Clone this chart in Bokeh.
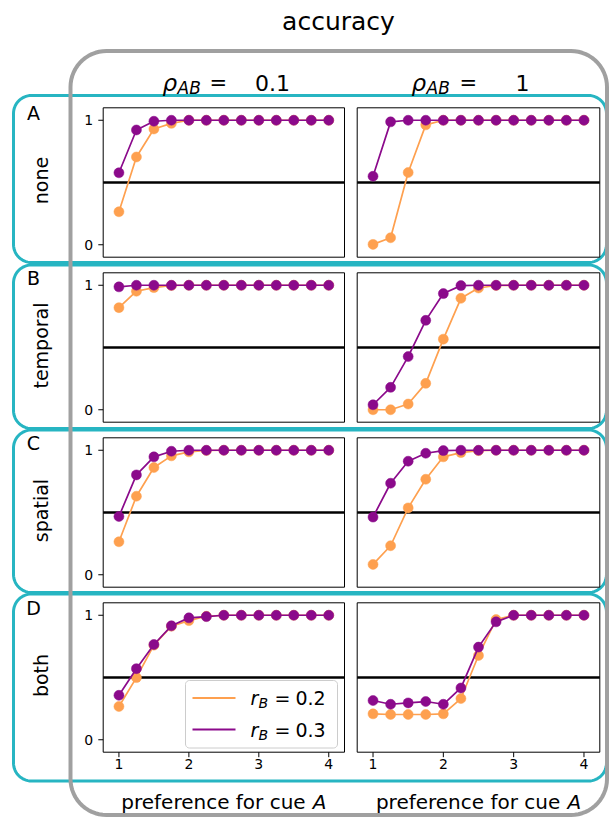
import numpy as np
from bokeh.plotting import figure
from bokeh.models import Range1d
from bokeh.core.properties import value
from bokeh.embed import file_html
from bokeh.resources import INLINE

# ---------------- data ----------------
pref = [1.0, 1.25, 1.5, 1.75, 2.0, 2.25, 2.5, 2.75, 3.0, 3.25, 3.5, 3.75, 4.0]
x_ticks = [1, 2, 3, 4]
y_ticks = [0, 1]
x_tick_labels = ["1", "2", "3", "4"]
y_tick_labels = ["0", "1"]
hline_level = 0.5

row_names = ["none", "temporal", "spatial", "both"]
row_letters = ["A", "B", "C", "D"]
rho_labels = ["0.1", "1"]
rB_labels = ["0.2", "0.3"]

none_rho01_rB02 = [0.265, 0.705, 0.93, 0.975, 1.0, 1.0, 1.0, 1.0, 1.0, 1.0, 1.0, 1.0, 1.0]
none_rho01_rB03 = [0.578, 0.922, 0.992, 1.0, 1.0, 1.0, 1.0, 1.0, 1.0, 1.0, 1.0, 1.0, 1.0]
none_rho1_rB02 = [0.003, 0.056, 0.58, 0.963, 1.0, 1.0, 1.0, 1.0, 1.0, 1.0, 1.0, 1.0, 1.0]
none_rho1_rB03 = [0.55, 0.987, 1.0, 1.0, 1.0, 1.0, 1.0, 1.0, 1.0, 1.0, 1.0, 1.0, 1.0]
temporal_rho01_rB02 = [0.82, 0.952, 0.981, 0.998, 1.0, 1.0, 1.0, 1.0, 1.0, 1.0, 1.0, 1.0, 1.0]
temporal_rho01_rB03 = [0.987, 1.0, 1.0, 1.0, 1.0, 1.0, 1.0, 1.0, 1.0, 1.0, 1.0, 1.0, 1.0]
temporal_rho1_rB02 = [0.0, 0.0, 0.046, 0.212, 0.567, 0.895, 0.978, 0.998, 1.0, 1.0, 1.0, 1.0, 1.0]
temporal_rho1_rB03 = [0.04, 0.18, 0.427, 0.718, 0.933, 0.997, 1.0, 1.0, 1.0, 1.0, 1.0, 1.0, 1.0]
spatial_rho01_rB02 = [0.265, 0.631, 0.861, 0.955, 0.987, 0.998, 1.0, 1.0, 1.0, 1.0, 1.0, 1.0, 1.0]
spatial_rho01_rB03 = [0.468, 0.802, 0.947, 0.992, 1.0, 1.0, 1.0, 1.0, 1.0, 1.0, 1.0, 1.0, 1.0]
spatial_rho1_rB02 = [0.083, 0.233, 0.537, 0.767, 0.947, 0.981, 0.997, 1.0, 1.0, 1.0, 1.0, 1.0, 1.0]
spatial_rho1_rB03 = [0.463, 0.735, 0.912, 0.976, 0.997, 1.0, 1.0, 1.0, 1.0, 1.0, 1.0, 1.0, 1.0]
both_rho01_rB02 = [0.267, 0.499, 0.76, 0.912, 0.957, 0.992, 1.0, 1.0, 1.0, 1.0, 1.0, 1.0, 1.0]
both_rho01_rB03 = [0.357, 0.571, 0.765, 0.915, 0.979, 0.989, 1.0, 1.0, 1.0, 1.0, 1.0, 1.0, 1.0]
both_rho1_rB02 = [0.208, 0.203, 0.203, 0.203, 0.208, 0.331, 0.677, 0.965, 1.0, 1.0, 1.0, 1.0, 1.0]
both_rho1_rB03 = [0.315, 0.285, 0.296, 0.307, 0.285, 0.416, 0.744, 0.947, 1.0, 1.0, 1.0, 1.0, 1.0]

series = {
    ("none", 0): (none_rho01_rB02, none_rho01_rB03),
    ("none", 1): (none_rho1_rB02, none_rho1_rB03),
    ("temporal", 0): (temporal_rho01_rB02, temporal_rho01_rB03),
    ("temporal", 1): (temporal_rho1_rB02, temporal_rho1_rB03),
    ("spatial", 0): (spatial_rho01_rB02, spatial_rho01_rB03),
    ("spatial", 1): (spatial_rho1_rB02, spatial_rho1_rB03),
    ("both", 0): (both_rho01_rB02, both_rho01_rB03),
    ("both", 1): (both_rho1_rB02, both_rho1_rB03),
}

# ---------------- style / layout ----------------
W, H = 609, 817
FONT = value("DejaVu Sans")
ORANGE = "#fea04f"
PURPLE = "#8b0a8b"
CYAN = "#27b5c2"
GRAY = "#a0a0a0"
XLIM = (0.775, 4.225)
YLIM = (-0.1, 1.1)

col_left = [102.7, 356.7]
col_right = [344.0, 599.3]
row_top = [107.3, 272.3, 437.3, 602.3]
panel_h = 149.4
row_box = [(95.0, 262.0), (264.5, 428.0), (429.5, 592.0), (593.5, 780.5)]

p = figure(width=W, height=H, x_range=Range1d(0, W), y_range=Range1d(H, 0),
           output_backend="svg", toolbar_location=None, min_border=0,
           x_axis_location=None, y_axis_location=None)
p.grid.visible = False
p.outline_line_color = None
p.background_fill_color = "white"
p.border_fill_color = "white"


def rrect(x0, y0, x1, y1, r, n=16):
    xs, ys = [], []
    corners = [((x0 + r, y0 + r), np.pi, 1.5 * np.pi),
               ((x1 - r, y0 + r), 1.5 * np.pi, 2 * np.pi),
               ((x1 - r, y1 - r), 0.0, 0.5 * np.pi),
               ((x0 + r, y1 - r), 0.5 * np.pi, np.pi)]
    for (cx, cy), a0, a1 in corners:
        t = np.linspace(a0, a1, n)
        xs.extend(cx + r * np.cos(t))
        ys.extend(cy + r * np.sin(t))
    xs.append(xs[0]); ys.append(ys[0])
    return xs, ys


# cyan row boxes
for (y0, y1) in row_box:
    xs, ys = rrect(13, y0, 606, y1, 18)
    p.line(xs, ys, line_color=CYAN, line_width=3, line_join="round")

# gray column box
xs, ys = rrect(70, 50.5, 606.5, 814.5, 36)
p.line(xs, ys, line_color=GRAY, line_width=4, line_join="round")

# titles
p.text(x=[338], y=[21], text=["accuracy"], text_font=FONT, text_font_size="25px",
       text_align="center", text_baseline="middle", text_color="black")

title_pos = [(162, 177, 209, 272), (411, 426, 459, 522)]
for (xr, xab, xeq, xv), lab in zip(title_pos, rho_labels):
    p.text(x=[xr], y=[82], text=["ρ"], text_font=FONT, text_font_size="23px",
           text_align="left", text_baseline="alphabetic", text_font_style="italic")
    p.text(x=[xab], y=[87], text=["AB"], text_font=FONT, text_font_size="17px",
           text_align="left", text_baseline="alphabetic", text_font_style="italic")
    p.text(x=[xeq], y=[82], text=["="], text_font=FONT, text_font_size="21px",
           text_align="left", text_baseline="alphabetic")
    p.text(x=[xv], y=[82], text=[lab], text_font=FONT, text_font_size="22px",
           text_align="center", text_baseline="alphabetic")

# row labels
for i, (letter, name) in enumerate(zip(row_letters, row_names)):
    yc = row_top[i] + panel_h / 2 - 2
    p.text(x=[33], y=[row_top[i] + 5], text=[letter], text_font=FONT, text_font_size="19px",
           text_align="center", text_baseline="middle")
    p.text(x=[40], y=[yc], text=[name], text_font=FONT, text_font_size="19px",
           text_align="center", text_baseline="middle", angle=np.pi / 2)

# panels
for i, name in enumerate(row_names):
    for j in range(2):
        sub = p.subplot(
            x_source=Range1d(*XLIM), y_source=Range1d(*YLIM),
            x_target=Range1d(col_left[j], col_right[j]),
            y_target=Range1d(row_top[i] + panel_h, row_top[i]),
        )
        sub.quad(left=[XLIM[0]], right=[XLIM[1]], bottom=[YLIM[0]], top=[YLIM[1]],
                 fill_color="white", line_color="black", line_width=1)
        sub.segment(x0=[XLIM[0]], x1=[XLIM[1]], y0=[hline_level], y1=[hline_level],
                    line_color="black", line_width=2.6)
        y02, y03 = series[(name, j)]
        for ys_, col in ((y02, ORANGE), (y03, PURPLE)):
            sub.line(pref, ys_, line_color=col, line_width=1.7)
            sub.scatter(pref, ys_, size=10, fill_color=col, line_color=col, line_width=0.5)
        if j == 0:
            sub.segment(x0=[XLIM[0]] * 2, x1=[XLIM[0] - 0.07] * 2, y0=y_ticks, y1=y_ticks,
                        line_color="black", line_width=1)
            sub.text(x=[XLIM[0]] * 2, y=y_ticks, text=y_tick_labels, x_offset=-10,
                     text_font=FONT, text_font_size="14px", text_align="right",
                     text_baseline="middle")
        if i == 3:
            sub.segment(x0=x_ticks, x1=x_ticks, y0=[YLIM[0]] * 4, y1=[YLIM[0] - 0.04] * 4,
                        line_color="black", line_width=1)
            sub.text(x=x_ticks, y=[YLIM[0]] * 4, text=x_tick_labels, y_offset=7,
                     text_font=FONT, text_font_size="14px", text_align="center",
                     text_baseline="top")

# x labels
for j in range(2):
    cx = (col_left[j] + col_right[j]) / 2
    p.text(x=[cx - 102.6], y=[801], text=["preference for cue "], text_font=FONT,
           text_font_size="20px", text_align="left", text_baseline="alphabetic")
    p.text(x=[cx + 89], y=[801], text=["A"], text_font=FONT, text_font_size="20px",
           text_align="left", text_baseline="alphabetic", text_font_style="italic")

# legend (row D, left panel)
lx, ly = rrect(185, 680, 337, 747.5, 4, n=6)
p.patch(lx, ly, fill_color="white", fill_alpha=0.85, line_color="#cccccc", line_width=1)
for k, (col, lab) in enumerate(zip((ORANGE, PURPLE), rB_labels)):
    yy = 697.5 + k * 31.5
    p.segment(x0=[192], x1=[235], y0=[yy], y1=[yy], line_color=col, line_width=1.8)
    p.text(x=[250], y=[yy], text=["r"], text_font=FONT, text_font_size="19px",
           text_align="left", text_baseline="middle", text_font_style="italic")
    p.text(x=[258], y=[yy + 5], text=["B"], text_font=FONT, text_font_size="14px",
           text_align="left", text_baseline="middle", text_font_style="italic")
    p.text(x=[274], y=[yy], text=["="], text_font=FONT, text_font_size="19px",
           text_align="left", text_baseline="middle")
    p.text(x=[310], y=[yy], text=[lab], text_font=FONT, text_font_size="19px",
           text_align="center", text_baseline="middle")

open("out.html", "w").write(file_html(p, INLINE))
